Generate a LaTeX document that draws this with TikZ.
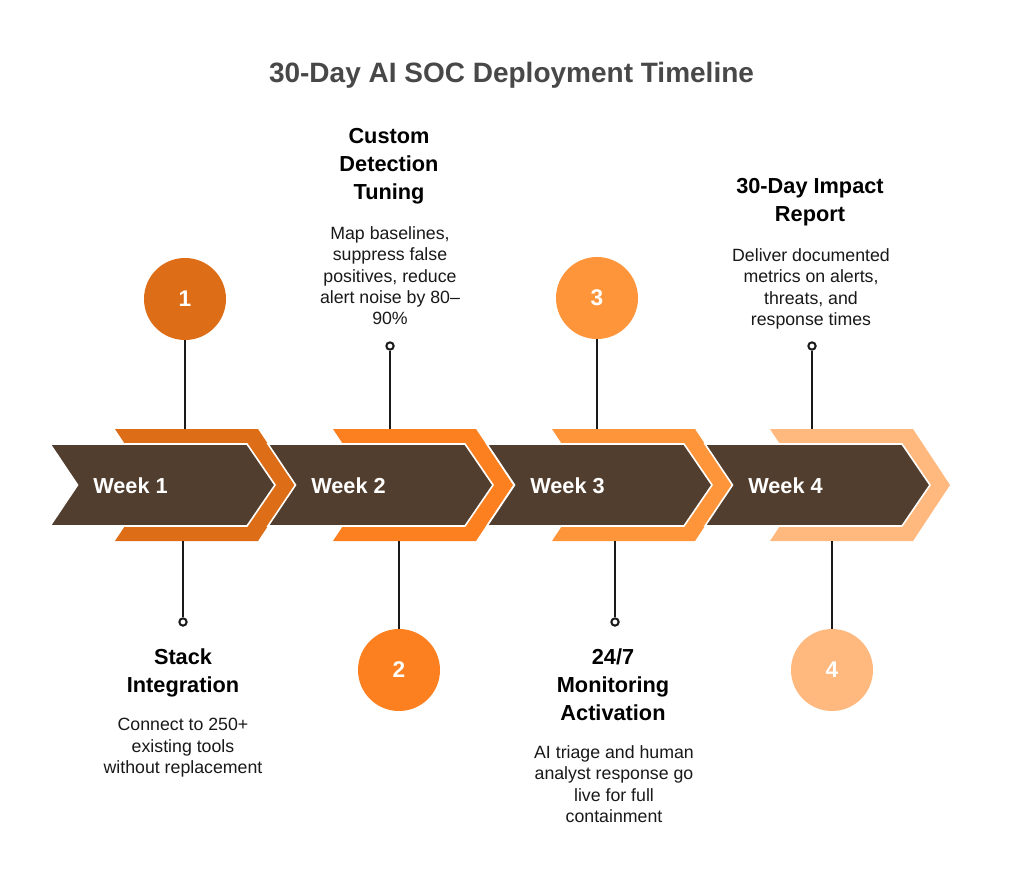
\documentclass[tikz,border=0pt]{standalone}
\usepackage{fontspec}
\setmainfont{Liberation Sans}
\usepackage{tikz}
\usetikzlibrary{positioning}

\definecolor{barbrown}{HTML}{523E2E}
\definecolor{stepone}{HTML}{DD6D17}
\definecolor{steptwo}{HTML}{FC801F}
\definecolor{stepthree}{HTML}{FF953B}
\definecolor{stepfour}{HTML}{FFB97F}
\definecolor{titlegray}{HTML}{484848}
\definecolor{stemgray}{HTML}{1A1A1A}

\begin{document}
\begin{tikzpicture}[
    x=0.75pt, y=-0.75pt,
    weekbar/.style={fill=barbrown, draw=white, line width=1.2pt},
    stepnum/.style={circle, minimum size=61.5pt, inner sep=0pt, text=white, font=\fontsize{17}{20}\selectfont\bfseries},
    pin/.style={circle, draw=stemgray, line width=1.5pt, fill=white, minimum size=5.5pt, inner sep=0pt},
    stem/.style={draw=stemgray, line width=1.9pt},
    weeklabel/.style={anchor=base west, inner sep=0pt, text=white, font=\fontsize{16.3}{20}\selectfont\bfseries},
    heading/.style={anchor=north, inner sep=0pt, align=center, font=\fontsize{16.3}{21}\selectfont\bfseries},
    blurb/.style={anchor=north, inner sep=0pt, align=center, text=black!90, font=\fontsize{13.3}{16.1}\selectfont}
]
\useasboundingbox[fill=white] (0,0) rectangle (1024,884);

% Title
\node[anchor=base, inner sep=0pt, text=titlegray, font=\fontsize{21}{24}\selectfont\bfseries] (title) at (511.5,83) {30-Day AI SOC Deployment Timeline};

% Chevrons
\fill[stepone] (115,429) -- (258,429) -- (295,485) -- (258,541) -- (115,541) -- (152,485) -- cycle;
\path[weekbar] (50,444) -- (247,444) -- (275,485) -- (247,526) -- (50,526) -- (77.5,485) -- cycle;
\fill[steptwo, shift={(218,0)}] (115,429) -- (258,429) -- (295,485) -- (258,541) -- (115,541) -- (152,485) -- cycle;
\path[weekbar, shift={(218,0)}] (50,444) -- (247,444) -- (275,485) -- (247,526) -- (50,526) -- (77.5,485) -- cycle;
\fill[stepthree, shift={(437,0)}] (115,429) -- (258,429) -- (295,485) -- (258,541) -- (115,541) -- (152,485) -- cycle;
\path[weekbar, shift={(437,0)}] (50,444) -- (247,444) -- (275,485) -- (247,526) -- (50,526) -- (77.5,485) -- cycle;
\fill[stepfour, shift={(655,0)}] (115,429) -- (258,429) -- (295,485) -- (258,541) -- (115,541) -- (152,485) -- cycle;
\path[weekbar, shift={(655,0)}] (50,444) -- (247,444) -- (275,485) -- (247,526) -- (50,526) -- (77.5,485) -- cycle;

\node[weeklabel] (wk1) at (93,493) {Week 1};
\node[weeklabel] (wk2) at (311,493) {Week 2};
\node[weeklabel] (wk3) at (530,493) {Week 3};
\node[weeklabel] (wk4) at (748,493) {Week 4};

% Numbered circles and pins
\node[stepnum, fill=stepone] (num1) at (185,299) {1};
\node[stepnum, fill=steptwo] (num2) at (399,670) {2};
\node[stepnum, fill=stepthree] (num3) at (597,298) {3};
\node[stepnum, fill=stepfour] (num4) at (832,670) {4};

\node[pin] (pin1) at (183,622) {};
\node[pin] (pin2) at (390,346) {};
\node[pin] (pin3) at (615,622) {};
\node[pin] (pin4) at (812,346) {};

\coordinate (up1) at (185,429);
\coordinate (dn1) at (183,541);
\coordinate (up2) at (390,429);
\coordinate (dn2) at (399,541);
\coordinate (up3) at (597,429);
\coordinate (dn3) at (615,541);
\coordinate (up4) at (812,429);
\coordinate (dn4) at (832,541);

\draw[stem] (num1) -- (up1);
\draw[stem] (dn1) -- (pin1);
\draw[stem] (pin2) -- (up2);
\draw[stem] (dn2) -- (num2);
\draw[stem] (num3) -- (up3);
\draw[stem] (dn3) -- (pin3);
\draw[stem] (pin4) -- (up4);
\draw[stem] (dn4) -- (num4);

% Texts
\node[heading] (head1) at (183,648) {Stack\\Integration};
\node[blurb] (text1) at (183,718) {Connect to 250+\\existing tools\\without replacement};

\node[heading] (head2) at (389,128) {Custom\\Detection\\Tuning};
\node[blurb] (text2) at (390,226) {Map baselines,\\suppress false\\positives, reduce\\alert noise by 80--\\90\%};

\node[heading] (head3) at (613,648) {24/7\\Monitoring\\Activation};
\node[blurb] (text3) at (614,745) {AI triage and human\\analyst response go\\live for full\\containment};

\node[heading] (head4) at (810,178) {30-Day Impact\\Report};
\node[blurb] (text4) at (811,248) {Deliver documented\\metrics on alerts,\\threats, and\\response times};
\end{tikzpicture}
\end{document}
